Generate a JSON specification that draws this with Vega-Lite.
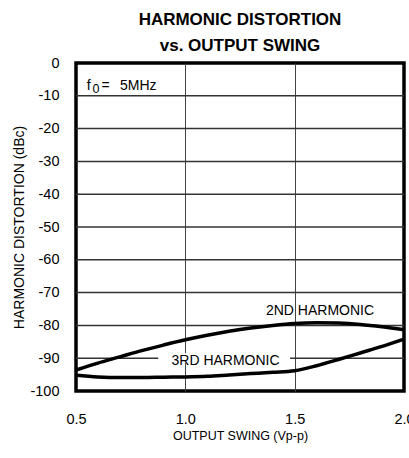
{
  "$schema": "https://vega.github.io/schema/vega-lite/v6.json",
  "width": 328,
  "height": 328,
  "autosize": {"type": "none"},
  "padding": {"left": 76, "top": 63, "right": 5, "bottom": 67},
  "background": "white",
  "title": {
    "text": ["HARMONIC DISTORTION", "vs. OUTPUT SWING"],
    "font": "Liberation Sans",
    "fontSize": 17,
    "fontWeight": "bold",
    "lineHeight": 26,
    "baseline": "alphabetic",
    "offset": -13,
    "frame": "group",
    "anchor": "middle",
    "color": "black"
  },
  "datasets": {
    "curves": [
      {"series": "2ND", "swing": 0.5, "db": -93.6},
      {"series": "2ND", "swing": 0.6, "db": -91.5},
      {"series": "2ND", "swing": 0.7, "db": -89.6},
      {"series": "2ND", "swing": 0.8, "db": -87.7},
      {"series": "2ND", "swing": 0.9, "db": -86.0},
      {"series": "2ND", "swing": 1.0, "db": -84.4},
      {"series": "2ND", "swing": 1.1, "db": -83.0},
      {"series": "2ND", "swing": 1.2, "db": -81.8},
      {"series": "2ND", "swing": 1.3, "db": -80.8},
      {"series": "2ND", "swing": 1.4, "db": -80.0},
      {"series": "2ND", "swing": 1.5, "db": -79.4},
      {"series": "2ND", "swing": 1.6, "db": -79.2},
      {"series": "2ND", "swing": 1.7, "db": -79.3},
      {"series": "2ND", "swing": 1.8, "db": -79.7},
      {"series": "2ND", "swing": 1.9, "db": -80.4},
      {"series": "2ND", "swing": 2.0, "db": -81.3},
      {"series": "3RD", "swing": 0.5, "db": -95.2},
      {"series": "3RD", "swing": 0.6, "db": -95.7},
      {"series": "3RD", "swing": 0.7, "db": -95.9},
      {"series": "3RD", "swing": 0.8, "db": -95.9},
      {"series": "3RD", "swing": 0.9, "db": -95.8},
      {"series": "3RD", "swing": 1.0, "db": -95.7},
      {"series": "3RD", "swing": 1.1, "db": -95.5},
      {"series": "3RD", "swing": 1.2, "db": -95.1},
      {"series": "3RD", "swing": 1.3, "db": -94.7},
      {"series": "3RD", "swing": 1.4, "db": -94.3},
      {"series": "3RD", "swing": 1.5, "db": -93.8},
      {"series": "3RD", "swing": 1.6, "db": -92.3},
      {"series": "3RD", "swing": 1.7, "db": -90.4},
      {"series": "3RD", "swing": 1.8, "db": -88.4},
      {"series": "3RD", "swing": 1.9, "db": -86.4},
      {"series": "3RD", "swing": 2.0, "db": -84.2}
    ],
    "hgrid": [
      {"db": -90, "x0": 0.5, "x1": 2.0}, {"db": -80, "x0": 0.5, "x1": 2.0}, {"db": -70, "x0": 0.5, "x1": 2.0},
      {"db": -60, "x0": 0.5, "x1": 2.0}, {"db": -50, "x0": 0.5, "x1": 2.0}, {"db": -40, "x0": 0.5, "x1": 2.0},
      {"db": -30, "x0": 0.5, "x1": 2.0}, {"db": -20, "x0": 0.5, "x1": 2.0}, {"db": -10, "x0": 0.5, "x1": 2.0}
    ],
    "mask": [
      {"swing": 0.876, "swing2": 1.479, "db": -91.5, "db2": -88.5}
    ],
    "labels": [
      {"label": "2ND HARMONIC", "swing": 1.616, "db": -75.5},
      {"label": "3RD HARMONIC", "swing": 1.184, "db": -91.0}
    ],
    "note": [
      {"label": "f", "swing": 0.549, "db": -8.14},
      {"label": "=", "swing": 0.617, "db": -8.14},
      {"label": "5MHz", "swing": 0.701, "db": -8.14}
    ],
    "sub": [
      {"label": "0", "swing": 0.575, "db": -9.1}
    ]
  },
  "encoding": {
    "y": {
      "field": "db",
      "type": "quantitative",
      "scale": {"domain": [-100, 0], "nice": false, "zero": false},
      "axis": {
        "values": [-100, -90, -80, -70, -60, -50, -40, -30, -20, -10, 0],
        "labelExpr": "'' + datum.value",
        "title": "HARMONIC DISTORTION (dBc)",
        "titleFontSize": 14,
        "titlePadding": 3,
        "labelPadding": 17,
        "labelOverlap": false,
        "labelBound": false,
        "grid": false
      }
    }
  },
  "layer": [
    {
      "data": {"name": "hgrid"},
      "mark": {"type": "rule", "stroke": "#333333", "strokeWidth": 1.5},
      "encoding": {
        "x": {"field": "x0", "type": "quantitative"},
        "x2": {"field": "x1"}
      }
    },
    {
      "data": {"name": "curves"},
      "mark": {"type": "line", "interpolate": "monotone", "strokeWidth": 3.5, "color": "black"},
      "encoding": {
        "x": {
          "field": "swing",
          "type": "quantitative",
          "scale": {"domain": [0.5, 2.0], "nice": false, "zero": false},
          "axis": {
            "values": [0.5, 1.0, 1.5, 2.0],
            "format": ".1f",
            "title": "OUTPUT SWING (Vp-p)",
            "titleFontSize": 12.5,
            "titlePadding": 4,
            "labelPadding": 21,
            "labelFlush": false,
            "labelOverlap": false,
            "labelBound": false,
            "grid": true,
            "gridColor": {"condition": {"test": "datum.value == 0.5 || datum.value == 2", "value": "black"}, "value": "#444444"}
          }
        },
        "detail": {"field": "series", "type": "nominal"}
      }
    },
    {
      "data": {"name": "mask"},
      "mark": {"type": "rect", "color": "white"},
      "encoding": {
        "x": {"field": "swing", "type": "quantitative"},
        "x2": {"field": "swing2"},
        "y2": {"field": "db2"}
      }
    },
    {
      "data": {"name": "labels"},
      "mark": {"type": "text", "font": "Liberation Sans", "fontSize": 14, "align": "center", "baseline": "middle", "color": "black"},
      "encoding": {
        "x": {"field": "swing", "type": "quantitative"},
        "text": {"field": "label", "type": "nominal"}
      }
    },
    {
      "data": {"name": "note"},
      "mark": {"type": "text", "font": "Liberation Sans", "fontSize": 14, "align": "left", "baseline": "alphabetic", "color": "black"},
      "encoding": {
        "x": {"field": "swing", "type": "quantitative"},
        "text": {"field": "label", "type": "nominal"}
      }
    },
    {
      "data": {"name": "sub"},
      "mark": {"type": "text", "font": "Liberation Sans", "fontSize": 12.5, "align": "left", "baseline": "alphabetic", "color": "black"},
      "encoding": {
        "x": {"field": "swing", "type": "quantitative"},
        "text": {"field": "label", "type": "nominal"}
      }
    }
  ],
  "config": {
    "font": "Liberation Sans",
    "view": {"stroke": "black", "strokeWidth": 3.5},
    "axis": {
      "labelFont": "Liberation Sans",
      "titleFont": "Liberation Sans",
      "labelFontSize": 14.5,
      "labelColor": "black",
      "titleColor": "black",
      "titleFontWeight": "normal",
      "gridWidth": 1,
      "domain": false,
      "ticks": false,
      "tickSize": 0
    }
  }
}
